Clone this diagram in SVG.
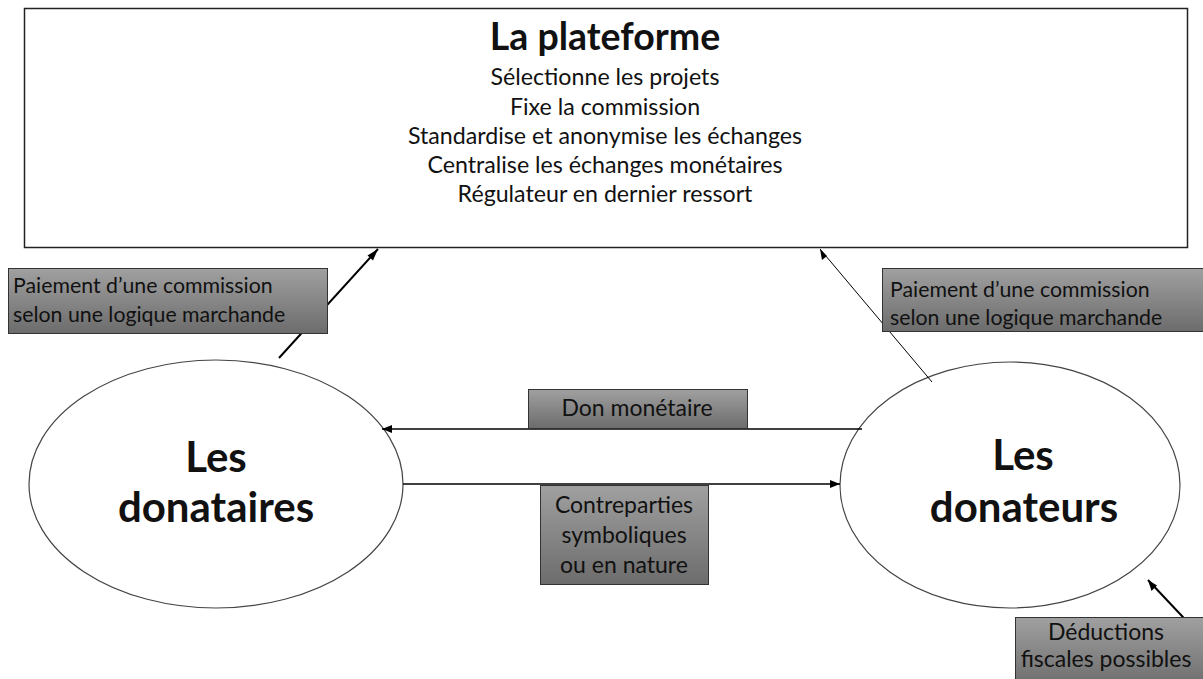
<svg xmlns="http://www.w3.org/2000/svg" width="1203" height="679" viewBox="0 0 1203 679">
<defs>
<linearGradient id="g" x1="0" y1="0" x2="0" y2="1">
<stop offset="0" stop-color="#a0a0a0"/>
<stop offset="1" stop-color="#6c6c6c"/>
</linearGradient>
</defs>
<style>
.t{font-family:Lato,"Open Sans",sans-serif;fill:#111;text-anchor:middle}
.lab{font-family:Lato,"Open Sans",sans-serif;fill:#111;font-size:21.3px}
.box{fill:url(#g);stroke:#333;stroke-width:1}
.c{stroke:#000;fill:none}
</style>
<rect width="1203" height="679" fill="#fff"/>
<g id="plateforme">
<rect x="24.5" y="8.5" width="1163" height="239" fill="#fff" stroke="#222" stroke-width="1.5"/>
<text class="t" x="605" y="50" font-size="37.5" font-weight="bold">La plateforme</text>
<text class="t" x="605" y="85" font-size="23.2">Sélectionne les projets</text>
<text class="t" x="605" y="115" font-size="23.2">Fixe la commission</text>
<text class="t" x="605" y="144" font-size="23.2">Standardise et anonymise les échanges</text>
<text class="t" x="605" y="173" font-size="23.2">Centralise les échanges monétaires</text>
<text class="t" x="605" y="202" font-size="23.2">Régulateur en dernier ressort</text>
</g>
<g id="donataires">
<ellipse cx="216" cy="484" rx="187" ry="124" fill="#fff" stroke="#444" stroke-width="1.2"/>
<text class="t" x="216" y="472" font-size="42" font-weight="bold">Les</text>
<text class="t" x="216" y="522" font-size="42" font-weight="bold">donataires</text>
</g>
<g id="donateurs">
<ellipse cx="1010" cy="485" rx="170" ry="123" fill="#fff" stroke="#444" stroke-width="1.2"/>
<text class="t" x="1023" y="470" font-size="42" font-weight="bold">Les</text>
<text class="t" x="1024" y="522" font-size="42" font-weight="bold">donateurs</text>
</g>
<g id="connectors">
<line class="c" x1="279" y1="358" x2="378" y2="249" stroke-width="2"/>
<line class="c" x1="932" y1="382" x2="820" y2="249" stroke-width="1"/>
<line class="c" x1="862" y1="429" x2="382" y2="429" stroke-width="1.5"/>
<line class="c" x1="403" y1="484" x2="840" y2="484" stroke-width="1.5"/>
<line class="c" x1="1197" y1="632" x2="1148" y2="580" stroke-width="2"/>
<path d="M378,249 L367.5,255.5 L373,260.5 z" fill="#000"/>
<path d="M820,249 L822,260 L827,256 z" fill="#000"/>
<path d="M382,429 L392,425 L392,433 z" fill="#000"/>
<path d="M840,484 L830,480 L830,488 z" fill="#000"/>
<path d="M1148,580 L1151.5,591 L1157,585.5 z" fill="#000"/>
</g>
<g id="label-commission-left">
<rect class="box" x="8.5" y="268.5" width="319" height="65"/>
<text class="lab" x="13" y="293">Paiement d’une commission</text>
<text class="lab" x="13" y="322">selon une logique marchande</text>
</g>
<g id="label-commission-right">
<rect class="box" x="882.5" y="268.5" width="330" height="63"/>
<text class="lab" x="890" y="297">Paiement d’une commission</text>
<text class="lab" x="890" y="325">selon une logique marchande</text>
</g>
<g id="label-don">
<rect class="box" x="528.5" y="389.5" width="219" height="39"/>
<text class="t" x="637" y="416" font-size="23">Don monétaire</text>
</g>
<g id="label-contreparties">
<rect class="box" x="540.5" y="485.5" width="168" height="99"/>
<text class="t" x="624" y="513" font-size="23">Contreparties</text>
<text class="t" x="624" y="543" font-size="23">symboliques</text>
<text class="t" x="624" y="573" font-size="23">ou en nature</text>
</g>
<g id="label-deductions">
<rect class="box" x="1015.5" y="617.5" width="200" height="70"/>
<text class="t" x="1106" y="640" font-size="23">Déductions</text>
<text class="t" x="1106" y="667" font-size="23">fiscales possibles</text>
</g>
</svg>
